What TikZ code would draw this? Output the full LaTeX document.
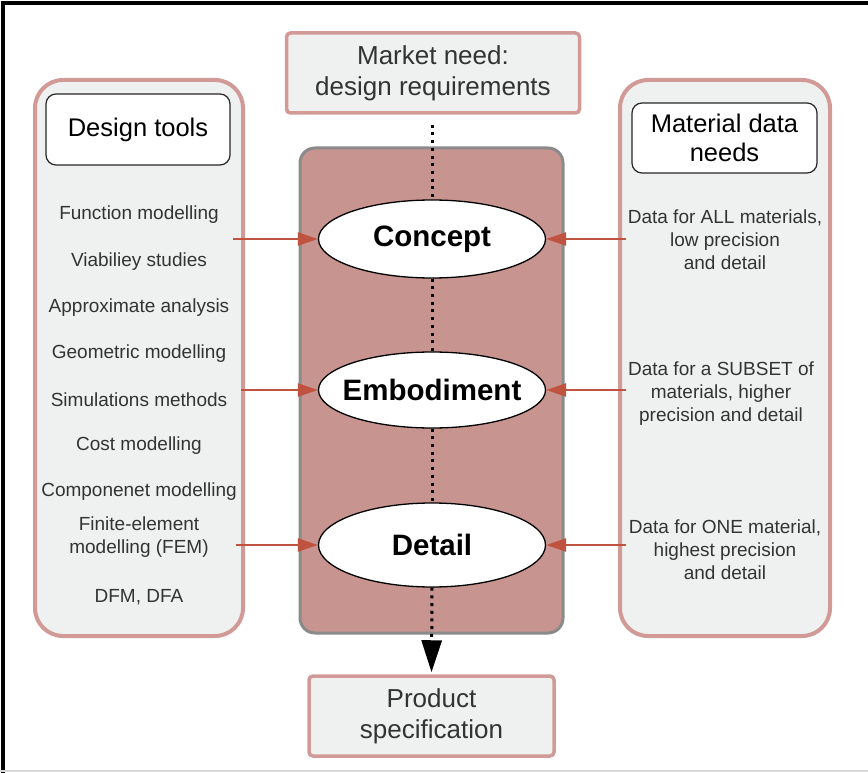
\documentclass[tikz,border=0pt]{standalone}
\usepackage{fontspec}
\setmainfont{Liberation Sans}
\usetikzlibrary{arrows.meta,calc,shapes.geometric}
\definecolor{pinkedge}{HTML}{D29A96}
\definecolor{panelfill}{HTML}{EFF0F0}
\definecolor{corefill}{HTML}{C8948F}
\definecolor{coreedge}{HTML}{8A8A8A}
\definecolor{arrowred}{HTML}{C0533F}
\definecolor{txtgray}{HTML}{333333}
\begin{document}
\begin{tikzpicture}[x=1pt,y=-1pt,
 panel/.style={draw=pinkedge, line width=4pt, fill=panelfill, rounded corners=28pt, inner sep=0pt},
 termbox/.style={draw=pinkedge, line width=3.5pt, fill=panelfill, rounded corners=4pt, inner sep=0pt, align=center, text=txtgray, font=\fontsize{26}{31}\selectfont},
 headbox/.style={draw=black!85, line width=1.2pt, fill=white, rounded corners=10pt, inner sep=0pt, align=center, font=\fontsize{25.5}{29}\selectfont},
 stage/.style={ellipse, draw=black, line width=1.3pt, fill=white, minimum width=227pt, minimum height=78pt, inner sep=0pt},
 stagetext/.style={inner sep=0pt, font=\bfseries\fontsize{29.5}{34}\selectfont},
 item/.style={text=txtgray, font=\fontsize{19}{23}\selectfont, align=center, inner sep=0pt},
 redarrow/.style={draw=arrowred, line width=2.5pt, -{Triangle[length=20pt,width=13pt]}},
 flow/.style={draw=black, line width=3pt, dash pattern=on 3pt off 4.7pt},
]
\useasboundingbox (0,0) rectangle (868,773);
% outer frame
\coordinate (fa) at (3,773);
\coordinate (fb) at (3,3);
\coordinate (fc) at (868,3);
\draw[black, line width=4pt] (fa) -- (fb) -- (fc);
\coordinate (ga) at (0,771);
\coordinate (gb) at (868,771);
\draw[black!15, line width=1.5pt] (ga) -- (gb);

% panels
\node[panel, minimum width=208pt, minimum height=556pt] (lpanel) at (139,358) {};
\node[panel, minimum width=210pt, minimum height=556pt] (rpanel) at (725,358) {};
\node[draw=coreedge, line width=3pt, fill=corefill, rounded corners=15pt, minimum width=263pt, minimum height=485pt, inner sep=0pt] (core) at (431.5,390.5) {};

% stages
\node[stage] (concept) at (432,239) {};
\node[stage, minimum height=76pt] (embod) at (432,390) {};
\node[stage, minimum height=84pt] (detail) at (432,545) {};

% terminal boxes
\node[termbox, minimum width=293pt, minimum height=80pt] (market) at (433,73) {Market need:\\design requirements};
\node[termbox, minimum width=245pt, minimum height=80pt] (product) at (431.5,716) {Product\\specification};

% flow (dotted)
\draw[flow] ([yshift=-10pt]market.south -| concept.north) -- (concept.north);
\draw[flow] (concept.south) -- (embod.north);
\draw[flow] (embod.south) -- (detail.north);
\draw[flow, -{Triangle[length=32pt,width=20pt]}, shorten >=2pt] (detail.south) -- (product.north);

% stage labels
\node[stagetext] (tconcept) at (concept) {Concept};
\node[stagetext] (tembod) at (embod) {Embodiment};
\node[stagetext] (tdetail) at (detail) {Detail};

% headers
\node[headbox, minimum width=184pt, minimum height=71pt] (dtools) at (138,129.5) {Design tools};
\node[headbox, minimum width=185pt, minimum height=70pt] (mdata) at (724.5,138) {Material data\\needs};

% left items
\node[item] (i1) at (139,215) {Function modelling};
\node[item] (i2) at (139,262) {Viabiliey studies};
\node[item] (i3) at (139,308) {Approximate analysis};
\node[item] (i4) at (139,354) {Geometric modelling};
\node[item] (i5) at (139,400) {Simulations methods};
\node[item] (i6) at (139,446) {Cost modelling};
\node[item] (i7) at (139,492) {Componenet modelling};
\node[item] (i8) at (139,537) {Finite-element\\modelling (FEM)};
\node[item] (i9) at (139,597) {DFM, DFA};

% right items
\node[item] (d1) at (725,240) {Data for ALL materials,\\low precision\\and detail};
\node[item] (d2) at (721,394) {Data for a SUBSET of\\materials, higher\\precision and detail};
\node[item] (d3) at (725,550) {Data for ONE material,\\highest precision\\and detail};

% red arrows
\draw[redarrow] ($(lpanel.east |- concept.west)+(-12,0)$) -- (concept.west);
\draw[redarrow] ($(lpanel.east |- embod.west)+(-4,0)$) -- (embod.west);
\draw[redarrow] ($(lpanel.east |- detail.west)+(-9,0)$) -- (detail.west);
\draw[redarrow] ($(rpanel.west |- concept.east)+(8,0)$) -- (concept.east);
\draw[redarrow] ($(rpanel.west |- embod.east)+(8,0)$) -- (embod.east);
\draw[redarrow] ($(rpanel.west |- detail.east)+(8,0)$) -- (detail.east);
\end{tikzpicture}
\end{document}
